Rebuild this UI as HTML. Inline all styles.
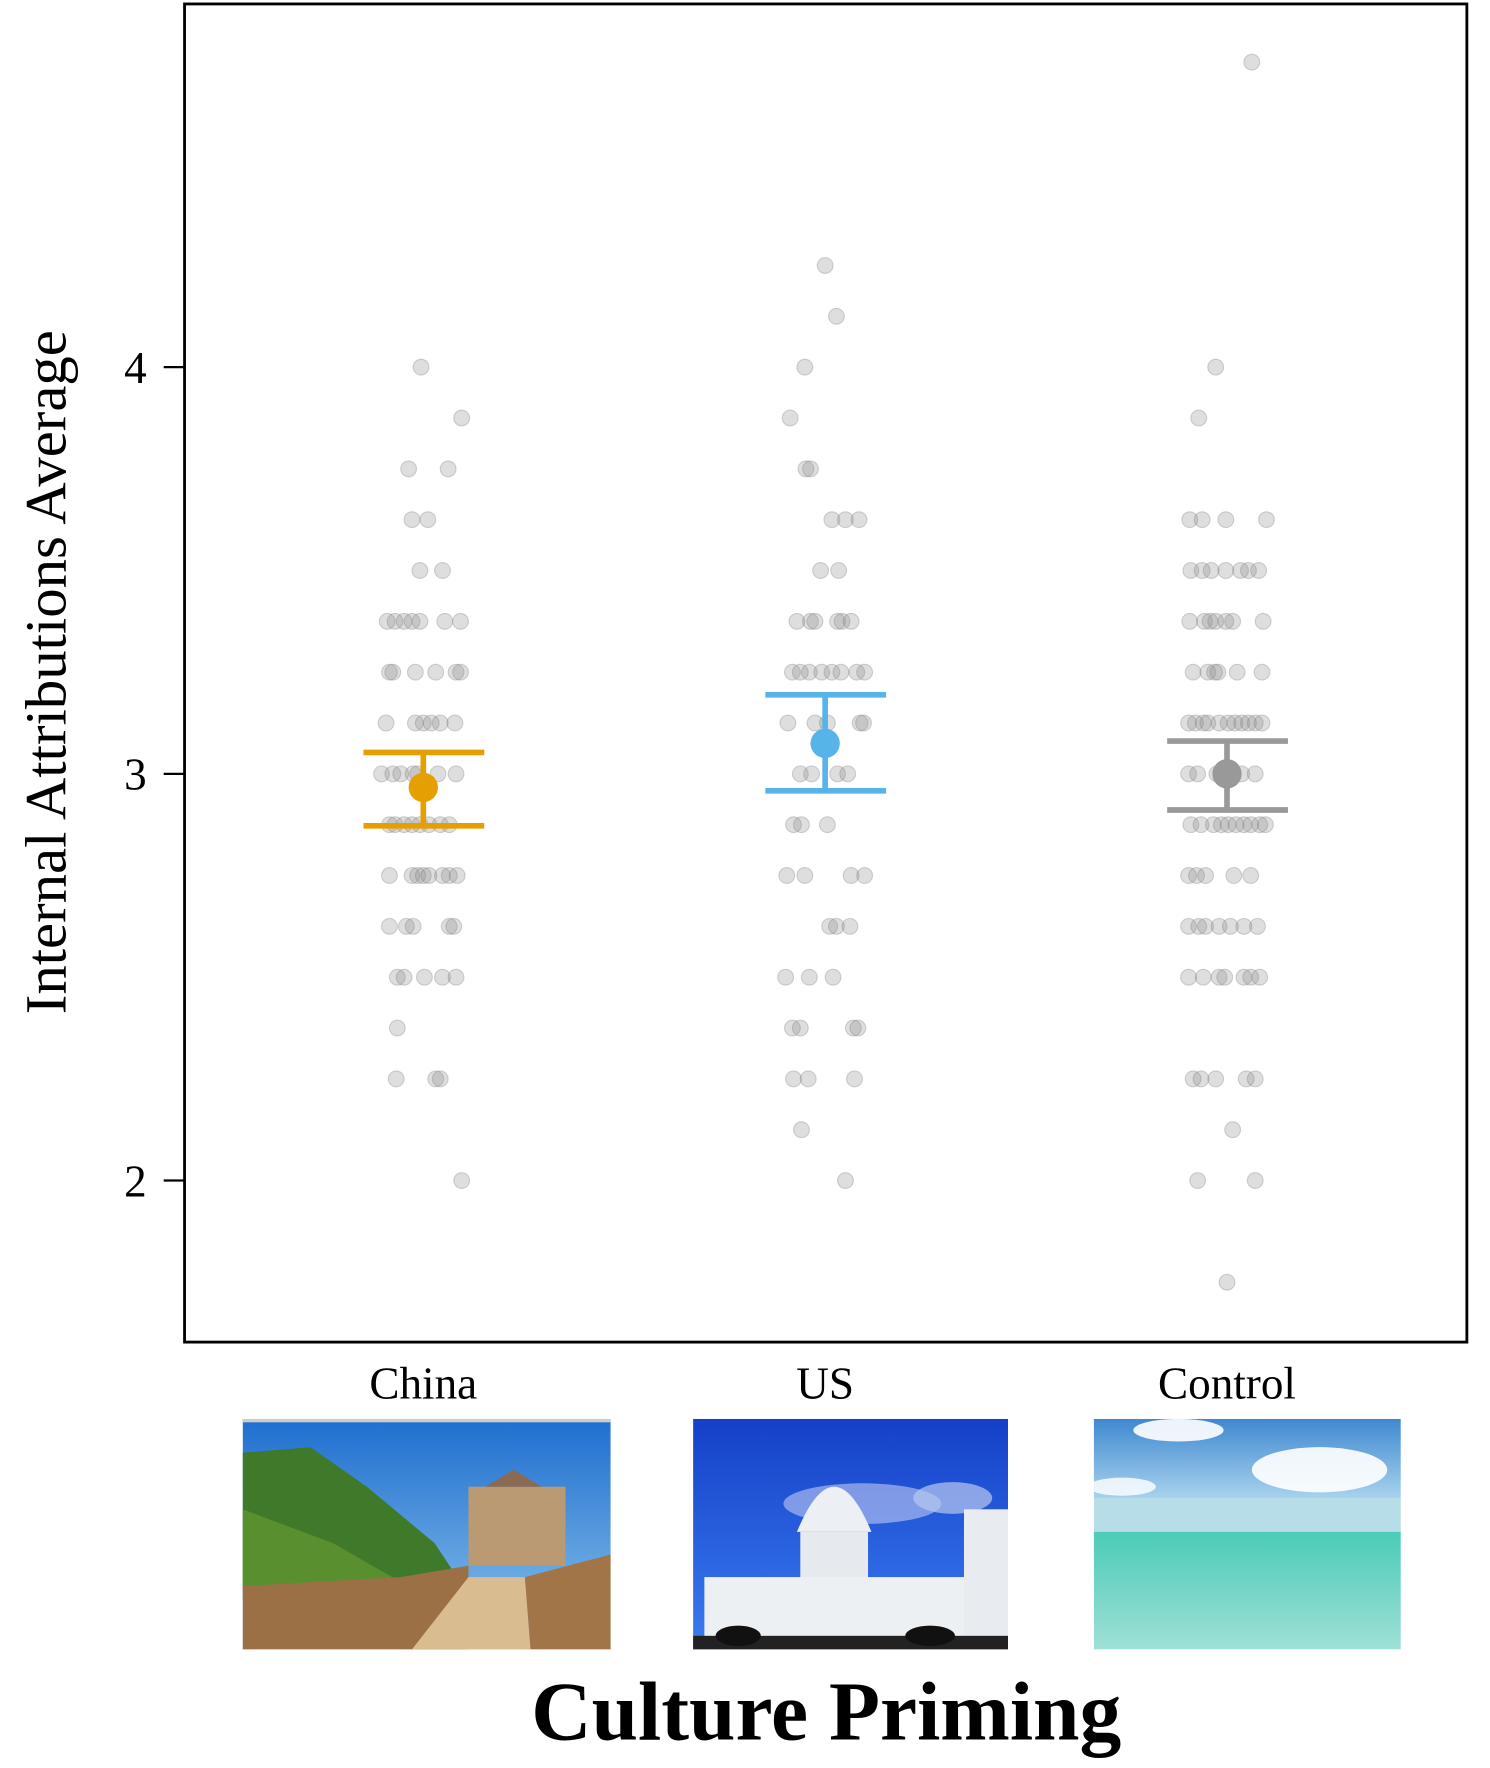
<!DOCTYPE html>
<html><head><meta charset="utf-8"><style>html,body{margin:0;padding:0;background:#fff}svg{display:block}</style></head>
<body>
<svg width="1490" height="1768" viewBox="0 0 1320 1565" preserveAspectRatio="none" xmlns="http://www.w3.org/2000/svg" font-family="Liberation Serif, serif">
<defs>
<linearGradient id="sky1" x1="0" y1="0" x2="0" y2="1"><stop offset="0" stop-color="#1f6fd0"/><stop offset="1" stop-color="#8cc3ea"/></linearGradient>
<linearGradient id="sky2" x1="0" y1="0" x2="0" y2="1"><stop offset="0" stop-color="#1540c8"/><stop offset="1" stop-color="#3a7cf0"/></linearGradient>
<linearGradient id="sea" x1="0" y1="0" x2="0" y2="1"><stop offset="0" stop-color="#4ccbb8"/><stop offset="1" stop-color="#9fe0d6"/></linearGradient>
<linearGradient id="sky3" x1="0" y1="0" x2="0" y2="1"><stop offset="0" stop-color="#3f88d0"/><stop offset="1" stop-color="#a8d2ee"/></linearGradient>
</defs>
<rect x="163.5" y="3.5" width="1136" height="1184.5" fill="none" stroke="#000" stroke-width="2.5"/>
<g stroke="#000" stroke-width="2"><line x1="145" y1="325" x2="163" y2="325"/><line x1="145" y1="685" x2="163" y2="685"/><line x1="145" y1="1045" x2="163" y2="1045"/></g>
<g font-size="40" text-anchor="end" fill="#000"><text x="130" y="339">4</text><text x="130" y="699">3</text><text x="130" y="1059">2</text></g>
<text transform="translate(58,595) rotate(-90)" font-size="52" text-anchor="middle">Internal Attributions Average</text>
<g fill="#888" fill-opacity="0.28" stroke="#777" stroke-opacity="0.3" stroke-width="1">
<circle cx="373" cy="325" r="7"/><circle cx="409" cy="370" r="7"/><circle cx="362" cy="415" r="7"/><circle cx="397" cy="415" r="7"/><circle cx="365" cy="460" r="7"/><circle cx="379" cy="460" r="7"/><circle cx="372" cy="505" r="7"/><circle cx="392" cy="505" r="7"/>
<circle cx="343" cy="550" r="7"/><circle cx="350" cy="550" r="7"/><circle cx="358" cy="550" r="7"/><circle cx="365" cy="550" r="7"/><circle cx="372" cy="550" r="7"/><circle cx="394" cy="550" r="7"/><circle cx="408" cy="550" r="7"/>
<circle cx="345" cy="595" r="7"/><circle cx="348" cy="595" r="7"/><circle cx="368" cy="595" r="7"/><circle cx="386" cy="595" r="7"/><circle cx="404" cy="595" r="7"/><circle cx="408" cy="595" r="7"/>
<circle cx="342" cy="640" r="7"/><circle cx="368" cy="640" r="7"/><circle cx="375" cy="640" r="7"/><circle cx="382" cy="640" r="7"/><circle cx="390" cy="640" r="7"/><circle cx="403" cy="640" r="7"/>
<circle cx="338" cy="685" r="7"/><circle cx="348" cy="685" r="7"/><circle cx="355" cy="685" r="7"/><circle cx="366" cy="685" r="7"/><circle cx="370" cy="685" r="7"/><circle cx="388" cy="685" r="7"/><circle cx="404" cy="685" r="7"/>
<circle cx="345" cy="730" r="7"/><circle cx="350" cy="730" r="7"/><circle cx="358" cy="730" r="7"/><circle cx="365" cy="730" r="7"/><circle cx="372" cy="730" r="7"/><circle cx="380" cy="730" r="7"/><circle cx="390" cy="730" r="7"/><circle cx="398" cy="730" r="7"/>
<circle cx="345" cy="775" r="7"/><circle cx="365" cy="775" r="7"/><circle cx="370" cy="775" r="7"/><circle cx="375" cy="775" r="7"/><circle cx="380" cy="775" r="7"/><circle cx="392" cy="775" r="7"/><circle cx="398" cy="775" r="7"/><circle cx="405" cy="775" r="7"/>
<circle cx="345" cy="820" r="7"/><circle cx="360" cy="820" r="7"/><circle cx="366" cy="820" r="7"/><circle cx="398" cy="820" r="7"/><circle cx="402" cy="820" r="7"/>
<circle cx="352" cy="865" r="7"/><circle cx="358" cy="865" r="7"/><circle cx="376" cy="865" r="7"/><circle cx="392" cy="865" r="7"/><circle cx="404" cy="865" r="7"/>
<circle cx="352" cy="910" r="7"/><circle cx="351" cy="955" r="7"/><circle cx="386" cy="955" r="7"/><circle cx="390" cy="955" r="7"/><circle cx="409" cy="1045" r="7"/>

<circle cx="731" cy="235" r="7"/><circle cx="741" cy="280" r="7"/><circle cx="713" cy="325" r="7"/><circle cx="700" cy="370" r="7"/><circle cx="714" cy="415" r="7"/><circle cx="718" cy="415" r="7"/>
<circle cx="737" cy="460" r="7"/><circle cx="749" cy="460" r="7"/><circle cx="761" cy="460" r="7"/><circle cx="727" cy="505" r="7"/><circle cx="743" cy="505" r="7"/>
<circle cx="706" cy="550" r="7"/><circle cx="718" cy="550" r="7"/><circle cx="722" cy="550" r="7"/><circle cx="742" cy="550" r="7"/><circle cx="746" cy="550" r="7"/><circle cx="754" cy="550" r="7"/>
<circle cx="702" cy="595" r="7"/><circle cx="709" cy="595" r="7"/><circle cx="717" cy="595" r="7"/><circle cx="728" cy="595" r="7"/><circle cx="737" cy="595" r="7"/><circle cx="745" cy="595" r="7"/><circle cx="759" cy="595" r="7"/><circle cx="766" cy="595" r="7"/>
<circle cx="698" cy="640" r="7"/><circle cx="722" cy="640" r="7"/><circle cx="733" cy="640" r="7"/><circle cx="762" cy="640" r="7"/><circle cx="765" cy="640" r="7"/>
<circle cx="709" cy="685" r="7"/><circle cx="719" cy="685" r="7"/><circle cx="742" cy="685" r="7"/><circle cx="751" cy="685" r="7"/>
<circle cx="703" cy="730" r="7"/><circle cx="710" cy="730" r="7"/><circle cx="733" cy="730" r="7"/>
<circle cx="697" cy="775" r="7"/><circle cx="713" cy="775" r="7"/><circle cx="754" cy="775" r="7"/><circle cx="766" cy="775" r="7"/>
<circle cx="735" cy="820" r="7"/><circle cx="741" cy="820" r="7"/><circle cx="753" cy="820" r="7"/>
<circle cx="696" cy="865" r="7"/><circle cx="717" cy="865" r="7"/><circle cx="738" cy="865" r="7"/>
<circle cx="702" cy="910" r="7"/><circle cx="709" cy="910" r="7"/><circle cx="756" cy="910" r="7"/><circle cx="760" cy="910" r="7"/>
<circle cx="703" cy="955" r="7"/><circle cx="716" cy="955" r="7"/><circle cx="757" cy="955" r="7"/><circle cx="710" cy="1000" r="7"/><circle cx="749" cy="1045" r="7"/>

<circle cx="1109" cy="55" r="7"/><circle cx="1077" cy="325" r="7"/><circle cx="1062" cy="370" r="7"/>
<circle cx="1054" cy="460" r="7"/><circle cx="1065" cy="460" r="7"/><circle cx="1086" cy="460" r="7"/><circle cx="1122" cy="460" r="7"/>
<circle cx="1055" cy="505" r="7"/><circle cx="1065" cy="505" r="7"/><circle cx="1073" cy="505" r="7"/><circle cx="1086" cy="505" r="7"/><circle cx="1099" cy="505" r="7"/><circle cx="1106" cy="505" r="7"/><circle cx="1115" cy="505" r="7"/>
<circle cx="1054" cy="550" r="7"/><circle cx="1067" cy="550" r="7"/><circle cx="1072" cy="550" r="7"/><circle cx="1077" cy="550" r="7"/><circle cx="1086" cy="550" r="7"/><circle cx="1092" cy="550" r="7"/><circle cx="1119" cy="550" r="7"/>
<circle cx="1057" cy="595" r="7"/><circle cx="1070" cy="595" r="7"/><circle cx="1076" cy="595" r="7"/><circle cx="1079" cy="595" r="7"/><circle cx="1096" cy="595" r="7"/><circle cx="1118" cy="595" r="7"/>
<circle cx="1053" cy="640" r="7"/><circle cx="1059" cy="640" r="7"/><circle cx="1066" cy="640" r="7"/><circle cx="1070" cy="640" r="7"/><circle cx="1080" cy="640" r="7"/><circle cx="1088" cy="640" r="7"/><circle cx="1094" cy="640" r="7"/><circle cx="1100" cy="640" r="7"/><circle cx="1106" cy="640" r="7"/><circle cx="1112" cy="640" r="7"/><circle cx="1118" cy="640" r="7"/>
<circle cx="1053" cy="685" r="7"/><circle cx="1061" cy="685" r="7"/><circle cx="1078" cy="685" r="7"/><circle cx="1090" cy="685" r="7"/><circle cx="1100" cy="685" r="7"/><circle cx="1112" cy="685" r="7"/>
<circle cx="1055" cy="730" r="7"/><circle cx="1064" cy="730" r="7"/><circle cx="1075" cy="730" r="7"/><circle cx="1082" cy="730" r="7"/><circle cx="1088" cy="730" r="7"/><circle cx="1095" cy="730" r="7"/><circle cx="1102" cy="730" r="7"/><circle cx="1108" cy="730" r="7"/><circle cx="1116" cy="730" r="7"/><circle cx="1121" cy="730" r="7"/>
<circle cx="1053" cy="775" r="7"/><circle cx="1060" cy="775" r="7"/><circle cx="1068" cy="775" r="7"/><circle cx="1093" cy="775" r="7"/><circle cx="1108" cy="775" r="7"/>
<circle cx="1053" cy="820" r="7"/><circle cx="1062" cy="820" r="7"/><circle cx="1068" cy="820" r="7"/><circle cx="1080" cy="820" r="7"/><circle cx="1090" cy="820" r="7"/><circle cx="1102" cy="820" r="7"/><circle cx="1114" cy="820" r="7"/>
<circle cx="1053" cy="865" r="7"/><circle cx="1066" cy="865" r="7"/><circle cx="1080" cy="865" r="7"/><circle cx="1085" cy="865" r="7"/><circle cx="1102" cy="865" r="7"/><circle cx="1108" cy="865" r="7"/><circle cx="1116" cy="865" r="7"/>
<circle cx="1057" cy="955" r="7"/><circle cx="1064" cy="955" r="7"/><circle cx="1077" cy="955" r="7"/><circle cx="1104" cy="955" r="7"/><circle cx="1112" cy="955" r="7"/>
<circle cx="1092" cy="1000" r="7"/><circle cx="1061" cy="1045" r="7"/><circle cx="1112" cy="1045" r="7"/><circle cx="1087" cy="1135" r="7"/>
</g>
<g fill="#e69f00" stroke="#e69f00" stroke-width="5"><line x1="322" y1="666" x2="429" y2="666"/><line x1="322" y1="731" x2="429" y2="731"/><line x1="375" y1="666" x2="375" y2="731"/><circle cx="375" cy="697" r="13" stroke="none"/></g>
<g fill="#56b4e9" stroke="#56b4e9" stroke-width="5"><line x1="678" y1="615" x2="785" y2="615"/><line x1="678" y1="700" x2="785" y2="700"/><line x1="731" y1="615" x2="731" y2="700"/><circle cx="731" cy="658" r="13" stroke="none"/></g>
<g fill="#999" stroke="#999" stroke-width="5"><line x1="1034" y1="656" x2="1141" y2="656"/><line x1="1034" y1="717" x2="1141" y2="717"/><line x1="1087" y1="656" x2="1087" y2="717"/><circle cx="1087" cy="685" r="13" stroke="none"/></g>
<g font-size="40" text-anchor="middle"><text x="375" y="1238">China</text><text x="731" y="1238">US</text><text x="1087" y="1238">Control</text></g>
<svg x="215" y="1256" width="326" height="204" viewBox="0 0 326 204" preserveAspectRatio="none">
<rect width="326" height="204" fill="url(#sky1)"/><rect width="326" height="3" fill="#ccc"/>
<path d="M0 30 L60 25 L110 60 L170 110 L190 140 L0 150Z" fill="#3f7a2a"/>
<path d="M0 80 L80 110 L150 150 L0 160Z" fill="#5a8f2f"/>
<rect x="200" y="60" width="86" height="70" fill="#b99a72"/><path d="M215 60 L240 45 L265 60Z" fill="#8a6a50"/>
<path d="M0 148 L140 140 L200 130 L200 204 L0 204Z" fill="#9c7045"/>
<path d="M150 204 L200 140 L250 140 L255 204Z" fill="#d9bd90"/>
<path d="M250 140 L326 120 L326 204 L255 204Z" fill="#a27548"/>
</svg>
<svg x="614" y="1256" width="279" height="204" viewBox="0 0 279 204" preserveAspectRatio="none">
<rect width="279" height="204" fill="url(#sky2)"/>
<ellipse cx="150" cy="75" rx="70" ry="18" fill="#a8b8ee" opacity="0.7"/><ellipse cx="230" cy="70" rx="35" ry="14" fill="#b8c8f0" opacity="0.7"/>
<path d="M92 100 Q125 20 158 100Z" fill="#eceff4"/><rect x="95" y="100" width="60" height="45" fill="#e6e9ee"/>
<rect x="10" y="140" width="269" height="55" fill="#edf0f3"/><rect x="240" y="80" width="39" height="115" fill="#e8ebef"/>
<rect x="0" y="192" width="279" height="12" fill="#222"/>
<ellipse cx="40" cy="192" rx="20" ry="9" fill="#111"/><ellipse cx="210" cy="192" rx="22" ry="9" fill="#111"/>
</svg>
<svg x="969" y="1256" width="272" height="204" viewBox="0 0 272 204" preserveAspectRatio="none">
<rect width="272" height="70" fill="url(#sky3)"/>
<ellipse cx="200" cy="45" rx="60" ry="20" fill="#fff" opacity="0.9"/><ellipse cx="75" cy="10" rx="40" ry="10" fill="#fff" opacity="0.9"/><ellipse cx="25" cy="60" rx="30" ry="8" fill="#fff" opacity="0.8"/>
<rect y="70" width="272" height="35" fill="#b7dde8"/>
<rect y="100" width="272" height="104" fill="url(#sea)"/>
</svg>
<text x="732" y="1540" font-size="74" font-weight="bold" text-anchor="middle">Culture Priming</text>
</svg>
</body></html>
